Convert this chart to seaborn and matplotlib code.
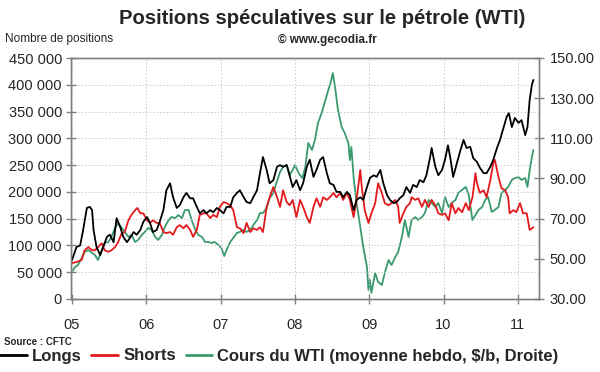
import matplotlib
matplotlib.use("Agg")
import matplotlib.pyplot as plt
import seaborn as sns
import pandas as pd
from matplotlib.ticker import FuncFormatter, MultipleLocator, FixedLocator
from matplotlib.lines import Line2D

# ---------------- data (decimal years, values) ----------------
longs_t = [2005.00, 2005.06, 2005.11, 2005.15, 2005.20, 2005.24, 2005.27, 2005.29, 2005.33, 2005.38,
           2005.42, 2005.47, 2005.51, 2005.56, 2005.60, 2005.65, 2005.69, 2005.74, 2005.78, 2005.83,
           2005.87, 2005.92, 2005.96, 2006.01, 2006.05, 2006.09, 2006.14, 2006.18, 2006.23, 2006.27,
           2006.32, 2006.36, 2006.41, 2006.45, 2006.50, 2006.54, 2006.59, 2006.63, 2006.68, 2006.72,
           2006.77, 2006.81, 2006.86, 2006.90, 2006.95, 2006.99, 2007.04, 2007.08, 2007.13, 2007.17,
           2007.22, 2007.26, 2007.31, 2007.35, 2007.40, 2007.44, 2007.49, 2007.53, 2007.57, 2007.62,
           2007.66, 2007.71, 2007.76, 2007.80, 2007.84, 2007.89, 2007.93, 2007.97, 2008.02, 2008.07,
           2008.11, 2008.16, 2008.20, 2008.25, 2008.29, 2008.34, 2008.38, 2008.43, 2008.47, 2008.52,
           2008.56, 2008.61, 2008.65, 2008.70, 2008.74, 2008.79, 2008.83, 2008.88, 2008.92, 2008.97,
           2009.01, 2009.06, 2009.10, 2009.15, 2009.19, 2009.24, 2009.28, 2009.33, 2009.37, 2009.41,
           2009.46, 2009.50, 2009.55, 2009.59, 2009.64, 2009.68, 2009.73, 2009.77, 2009.82, 2009.84,
           2009.89, 2009.93, 2009.98, 2010.02, 2010.06, 2010.09, 2010.13, 2010.18, 2010.22, 2010.27,
           2010.31, 2010.36, 2010.40, 2010.45, 2010.49, 2010.54, 2010.58, 2010.63, 2010.67, 2010.72,
           2010.76, 2010.81, 2010.85, 2010.88, 2010.92, 2010.96, 2011.01, 2011.05, 2011.10, 2011.13,
           2011.16, 2011.19, 2011.21]
longs_v = [72800, 97000, 100000, 129000, 170000, 172000, 166000, 129000, 97000, 82000,
           97000, 116000, 120000, 106000, 151000, 134000, 116000, 106000, 114000, 125000,
           120000, 129000, 144000, 153000, 142000, 125000, 129000, 144000, 166000, 203000,
           216000, 190000, 170000, 175000, 190000, 198000, 188000, 188000, 172000, 160000,
           166000, 160000, 166000, 162000, 170000, 166000, 160000, 172000, 172000, 190000,
           198000, 203000, 190000, 181000, 179000, 190000, 203000, 235000, 265000, 241000,
           216000, 222000, 247000, 250000, 247000, 250000, 230000, 209000, 222000, 203000,
           216000, 247000, 260000, 228000, 241000, 260000, 265000, 235000, 216000, 213000,
           200000, 200000, 190000, 200000, 194000, 166000, 185000, 190000, 185000, 209000,
           226000, 231000, 228000, 241000, 216000, 194000, 185000, 179000, 181000, 188000,
           194000, 209000, 198000, 213000, 209000, 222000, 218000, 231000, 265000, 282000,
           247000, 231000, 241000, 260000, 287000, 265000, 228000, 254000, 274000, 297000,
           282000, 284000, 263000, 256000, 245000, 235000, 235000, 247000, 260000, 282000,
           297000, 321000, 340000, 347000, 321000, 338000, 329000, 334000, 306000, 321000,
           372000, 400000, 409000]

shorts_t = [2005.00, 2005.06, 2005.13, 2005.17, 2005.22, 2005.27, 2005.31, 2005.35, 2005.40, 2005.44,
            2005.49, 2005.53, 2005.58, 2005.62, 2005.67, 2005.71, 2005.76, 2005.80, 2005.85, 2005.88,
            2005.92, 2005.96, 2006.01, 2006.05, 2006.09, 2006.14, 2006.18, 2006.23, 2006.27, 2006.32,
            2006.36, 2006.41, 2006.45, 2006.50, 2006.54, 2006.59, 2006.63, 2006.68, 2006.72, 2006.77,
            2006.81, 2006.86, 2006.90, 2006.95, 2006.99, 2007.04, 2007.08, 2007.13, 2007.17, 2007.22,
            2007.26, 2007.31, 2007.35, 2007.40, 2007.44, 2007.49, 2007.53, 2007.57, 2007.62, 2007.66,
            2007.71, 2007.76, 2007.80, 2007.84, 2007.89, 2007.93, 2007.97, 2008.02, 2008.07, 2008.11,
            2008.16, 2008.20, 2008.25, 2008.29, 2008.34, 2008.38, 2008.43, 2008.47, 2008.52, 2008.56,
            2008.61, 2008.65, 2008.70, 2008.74, 2008.79, 2008.83, 2008.88, 2008.90, 2008.94, 2008.99,
            2009.03, 2009.08, 2009.12, 2009.17, 2009.21, 2009.26, 2009.30, 2009.35, 2009.39, 2009.41,
            2009.46, 2009.50, 2009.55, 2009.57, 2009.62, 2009.66, 2009.71, 2009.75, 2009.80, 2009.84,
            2009.89, 2009.93, 2009.98, 2010.02, 2010.07, 2010.11, 2010.16, 2010.20, 2010.25, 2010.30,
            2010.34, 2010.39, 2010.43, 2010.45, 2010.49, 2010.54, 2010.58, 2010.63, 2010.67, 2010.69,
            2010.74, 2010.78, 2010.83, 2010.87, 2010.89, 2010.94, 2010.98, 2011.03, 2011.07, 2011.12,
            2011.16, 2011.21]
shorts_v = [67000, 69000, 73000, 91000, 97000, 91000, 91000, 97000, 104000, 91000,
            88000, 91000, 97000, 106000, 123000, 125000, 147000, 157000, 166000, 170000,
            160000, 160000, 147000, 142000, 147000, 142000, 142000, 125000, 123000, 125000,
            120000, 134000, 138000, 132000, 138000, 129000, 116000, 129000, 157000, 160000,
            160000, 151000, 157000, 153000, 172000, 181000, 179000, 175000, 166000, 134000,
            132000, 123000, 142000, 125000, 132000, 129000, 134000, 125000, 172000, 190000,
            209000, 190000, 172000, 203000, 181000, 175000, 185000, 153000, 185000, 172000,
            153000, 142000, 172000, 188000, 172000, 190000, 185000, 190000, 198000, 190000,
            198000, 185000, 198000, 185000, 153000, 185000, 241000, 209000, 166000, 142000,
            160000, 179000, 216000, 198000, 179000, 175000, 179000, 185000, 172000, 142000,
            160000, 172000, 179000, 190000, 185000, 188000, 172000, 185000, 172000, 185000,
            175000, 160000, 157000, 160000, 147000, 179000, 160000, 170000, 162000, 179000,
            166000, 190000, 235000, 216000, 198000, 203000, 190000, 222000, 254000, 260000,
            228000, 207000, 203000, 190000, 160000, 166000, 162000, 179000, 160000, 160000,
            129000, 134000]

wti_t = [2005.00, 2005.04, 2005.08, 2005.13, 2005.17, 2005.22, 2005.27, 2005.31, 2005.35, 2005.40,
         2005.44, 2005.49, 2005.53, 2005.58, 2005.62, 2005.67, 2005.71, 2005.76, 2005.80, 2005.85,
         2005.89, 2005.94, 2005.98, 2006.03, 2006.07, 2006.12, 2006.16, 2006.21, 2006.25, 2006.30,
         2006.34, 2006.39, 2006.43, 2006.48, 2006.52, 2006.57, 2006.61, 2006.66, 2006.70, 2006.75,
         2006.79, 2006.83, 2006.88, 2006.92, 2006.97, 2007.01, 2007.05, 2007.08, 2007.13, 2007.17,
         2007.22, 2007.26, 2007.31, 2007.35, 2007.40, 2007.44, 2007.49, 2007.53, 2007.57, 2007.62,
         2007.66, 2007.71, 2007.76, 2007.80, 2007.84, 2007.89, 2007.93, 2007.97, 2008.00, 2008.05,
         2008.10, 2008.14, 2008.18, 2008.23, 2008.27, 2008.31, 2008.36, 2008.41, 2008.45, 2008.48,
         2008.51, 2008.54, 2008.58, 2008.63, 2008.67, 2008.72, 2008.74, 2008.76, 2008.79, 2008.83,
         2008.88, 2008.92, 2008.97, 2008.99, 2009.01, 2009.03, 2009.08, 2009.12, 2009.17, 2009.21,
         2009.26, 2009.30, 2009.35, 2009.39, 2009.44, 2009.48, 2009.53, 2009.57, 2009.62, 2009.66,
         2009.71, 2009.75, 2009.80, 2009.84, 2009.89, 2009.93, 2009.98, 2010.02, 2010.07, 2010.11,
         2010.16, 2010.20, 2010.25, 2010.30, 2010.34, 2010.39, 2010.43, 2010.47, 2010.52, 2010.56,
         2010.60, 2010.65, 2010.69, 2010.74, 2010.78, 2010.83, 2010.87, 2010.92, 2010.96, 2011.01,
         2011.05, 2011.10, 2011.13, 2011.16, 2011.19, 2011.21]
wti_v = [43.4, 45.9, 46.9, 50.4, 53.4, 54.4, 52.9, 51.9, 49.4, 54.4,
         57.9, 58.4, 60.9, 65.4, 67.8, 65.4, 63.4, 60.9, 61.9, 58.4,
         59.4, 61.9, 63.4, 65.4, 64.4, 60.9, 59.4, 61.9, 65.9, 69.3,
         70.8, 70.3, 71.8, 70.3, 74.3, 74.3, 69.3, 64.4, 61.9, 60.9,
         58.4, 58.4, 57.9, 58.4, 56.9, 55.4, 51.4, 54.4, 58.4, 60.4,
         62.9, 63.4, 64.4, 63.4, 64.4, 66.8, 69.3, 72.8, 72.8, 75.3,
         80.3, 82.8, 88.8, 93.2, 95.7, 96.7, 91.7, 94.2, 96.7, 92.7,
         90.2, 95.7, 107.7, 104.2, 109.2, 117.6, 122.6, 129.1, 134.1, 137.5,
         142.5, 135.6, 124.1, 115.6, 112.7, 107.7, 99.2, 105.7, 90.7, 77.8,
         65.9, 55.9, 45.9, 34.5, 39.5, 33.0, 42.9, 38.5, 37.0, 42.9,
         49.4, 46.9, 50.9, 53.4, 60.9, 69.3, 60.9, 69.3, 70.8, 69.3,
         70.8, 72.8, 79.3, 77.8, 75.8, 77.8, 72.8, 80.8, 75.8, 77.8,
         79.3, 82.8, 84.3, 85.8, 81.8, 69.3, 71.8, 74.3, 75.8, 79.3,
         80.8, 73.3, 74.3, 75.8, 82.8, 84.3, 85.8, 89.3, 90.2, 90.7,
         89.3, 90.2, 85.8, 94.2, 100.7, 104.2]

year_ticks = [2005, 2006, 2007, 2008, 2009, 2010, 2011]
year_labels = ["05", "06", "07", "08", "09", "10", "11"]
left_ticks = [0, 50000, 100000, 150000, 200000, 250000, 300000, 350000, 400000, 450000]
right_ticks = [30, 50, 70, 90, 110, 130, 150]

title = "Positions spéculatives sur le pétrole (WTI)"
subtitle = "© www.gecodia.fr"
ylabel_left = "Nombre de positions"
source = "Source : CFTC"
series_names = ["Longs", "Shorts", "Cours du WTI (moyenne hebdo, $/b, Droite)"]
colors = ["#000000", "#e3191c", "#3a9a6e"]

# ---------------- figure ----------------
sns.set_style("white")
plt.rcParams["font.family"] = ["Liberation Sans", "DejaVu Sans"]

W, H = 600, 372
fig = plt.figure(figsize=(W / 100, H / 100), dpi=100)
ax = fig.add_axes([71 / W, 1 - 299 / H, (539 - 71) / W, (299 - 58) / H])
ax2 = ax.twinx()

df_l = pd.DataFrame({"t": longs_t, "v": longs_v})
df_s = pd.DataFrame({"t": shorts_t, "v": shorts_v})
df_w = pd.DataFrame({"t": wti_t, "v": wti_v})

lw = 1.3
sns.lineplot(data=df_w, x="t", y="v", ax=ax2, color=colors[2], lw=lw, legend=False)
sns.lineplot(data=df_s, x="t", y="v", ax=ax, color=colors[1], lw=lw, legend=False)
sns.lineplot(data=df_l, x="t", y="v", ax=ax, color=colors[0], lw=lw, legend=False)
ax.set_zorder(ax2.get_zorder() + 1)
ax.patch.set_visible(False)

x0 = 2005 - 1 / 74.3
x1 = 2005 + 467 / 74.3
ax.set_xlim(x0, x1)
ax.set_ylim(0, 450000)
ax2.set_ylim(30, 150)

ax.yaxis.set_major_locator(FixedLocator(left_ticks))
ax.yaxis.set_major_formatter(FuncFormatter(lambda v, p: f"{int(v):,}".replace(",", " ")))
ax2.yaxis.set_major_locator(FixedLocator(right_ticks))
ax2.yaxis.set_major_formatter(FuncFormatter(lambda v, p: f"{v:.2f}"))
ax.xaxis.set_major_locator(FixedLocator(year_ticks))
ax.set_xticklabels(year_labels)

ax.set_xlabel("")
ax.set_ylabel("")
ax2.set_ylabel("")

ax.grid(True, axis="both", color="#c8c8c8", linestyle=(0, (1.5, 2)), linewidth=0.7)
ax.set_axisbelow(True)

spine_col = "#808080"
for a in (ax, ax2):
    for s in a.spines.values():
        s.set_color(spine_col)
        s.set_linewidth(1.0)
        s.set_visible(True)

ax.tick_params(axis="y", direction="inout", length=7, width=1, color=spine_col,
               labelsize=10.5, pad=3, left=True)
ax.tick_params(axis="x", direction="inout", length=7, width=1, color=spine_col,
               labelsize=10.5, pad=10, bottom=True)
ax2.tick_params(axis="y", direction="inout", length=7, width=1, color=spine_col,
                labelsize=10.5, pad=4, right=True)

fig.text(322 / W, 1 - 18 / H, title, ha="center", va="center", fontsize=14.6,
         fontweight="bold")
fig.text(327 / W, 1 - 40 / H, subtitle, ha="center", va="center", fontsize=8.5,
         fontweight="bold")
fig.text(5 / W, 1 - 39 / H, ylabel_left, ha="left", va="center", fontsize=8.5)
fig.text(4 / W, 1 - 342 / H, source, ha="left", va="center", fontsize=7,
         fontweight="bold")

handles = [Line2D([], [], color=c, lw=2) for c in colors]
fig.legend(handles, series_names, loc="center left", bbox_to_anchor=(0.0, 1 - 356 / H),
           ncol=3, frameon=False, handlelength=1.6, handletextpad=0.3, columnspacing=0.6,
           prop={"size": 12, "weight": "bold"}, borderaxespad=0, borderpad=0)

fig.savefig("out.png", dpi=100)
